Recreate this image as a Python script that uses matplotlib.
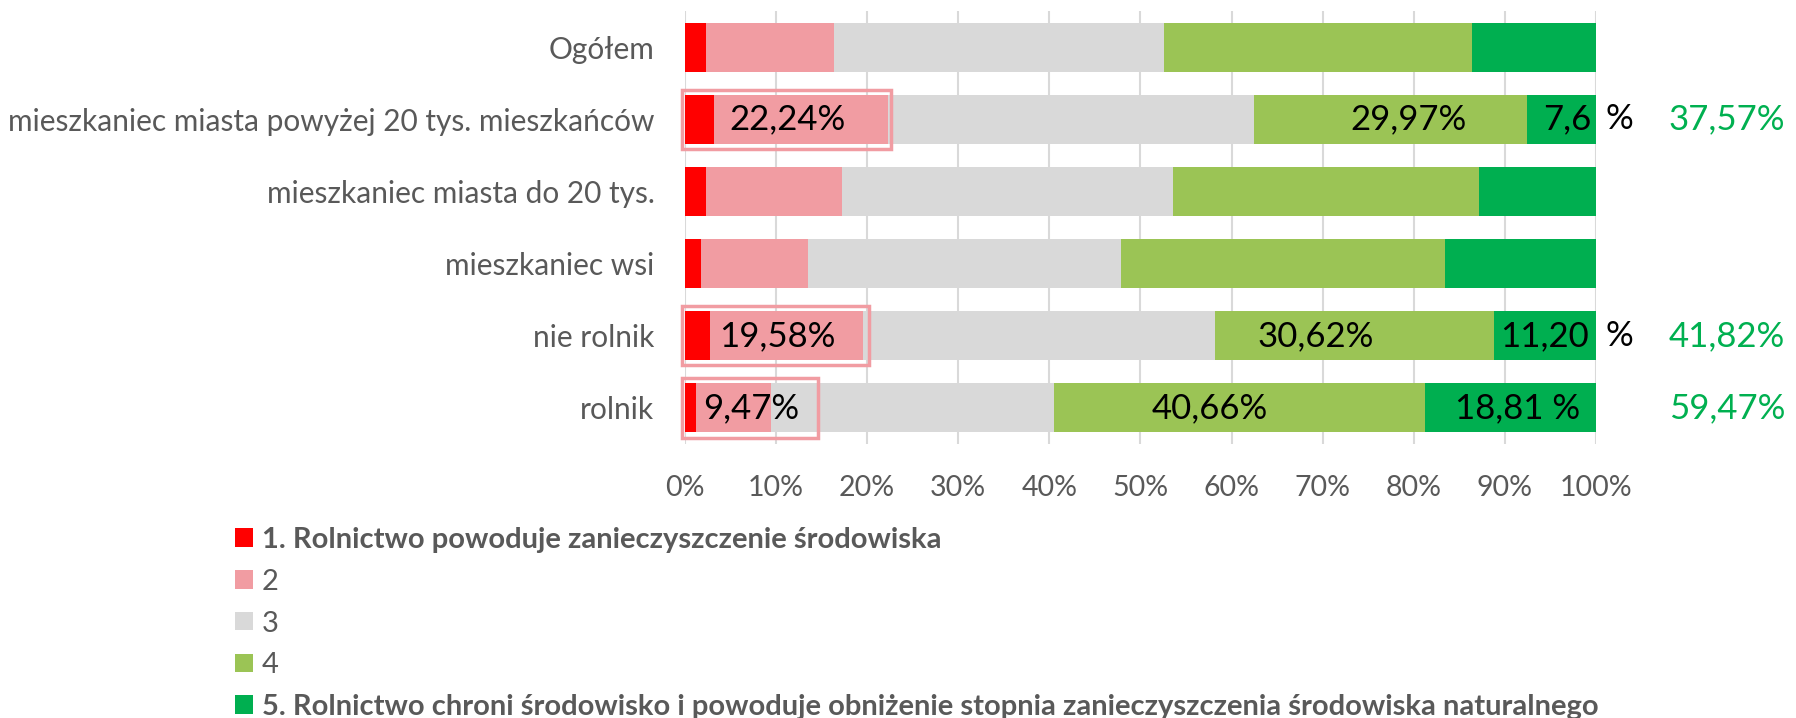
import numpy as np
import matplotlib
matplotlib.use('Agg')
import matplotlib.pyplot as plt
from matplotlib.patches import Rectangle

plt.rcParams['font.family'] = ['Lato', 'DejaVu Sans']

grupy = ['Ogółem', 'mieszkaniec miasta powyżej 20 tys. mieszkańców',
         'mieszkaniec miasta do 20 tys.', 'mieszkaniec wsi', 'nie rolnik', 'rolnik']
odp1 = [2.27, 3.23, 2.27, 1.72, 2.73, 1.18]
odp2 = [14.06, 19.01, 14.93, 11.76, 16.85, 8.29]
odp3 = [36.30, 40.19, 36.40, 34.42, 38.60, 31.06]
odp4 = [33.80, 29.97, 33.60, 35.57, 30.62, 40.66]
odp5 = [13.57, 7.60, 12.80, 16.53, 11.20, 18.81]

legenda = ['1. Rolnictwo powoduje zanieczyszczenie środowiska', '2', '3', '4',
           '5. Rolnictwo chroni środowisko i powoduje obniżenie stopnia zanieczyszczenia środowiska naturalnego']
kolory = ['#FF0000', '#F19CA2', '#D9D9D9', '#9BC455', '#00AF50']

# wiersze z opisami
wiersze_opis = [1, 4, 5]
opis_zolte = ['7,6', '11,20', '18,81 %']
opis_proc = ['%', '%', '']

fig = plt.figure(figsize=(17.96, 7.18), dpi=100)
ax = fig.add_axes([0.3814, 0.3816, 0.5072, 0.6031])

seria = [odp1, odp2, odp3, odp4, odp5]
y = np.arange(len(grupy))
lewo = np.zeros(len(grupy))
for s, kol, lab in zip(seria, kolory, legenda):
    ax.barh(y, s, left=lewo, height=0.68, color=kol, label=lab, zorder=2)
    lewo += np.array(s)

ax.set_xlim(0, 100)
ax.set_ylim(len(grupy) - 0.5, -0.5)
ax.set_yticks(y)
ax.set_yticklabels(grupy)
ax.set_xticks(np.arange(0, 101, 10))
ax.set_xticklabels([f'{v}%' for v in range(0, 101, 10)])
ax.tick_params(axis='both', length=0, labelcolor='#595959')
ax.tick_params(axis='y', pad=22, labelsize=21.5)
ax.tick_params(axis='x', pad=22, labelsize=20.5)
ax.xaxis.grid(True, color='#D9D9D9', lw=1.5, zorder=0)
ax.set_axisbelow(True)
for sp in ax.spines.values():
    sp.set_visible(False)

pozycje_ramka = [22.6, 20.2, 14.65]
pozycje_lewy = [11.3, 10.1, 7.3]
pozycje_4 = [79.4, 69.2, 57.6]
pozycje_5 = [96.8, 94.4, 91.4]

for k, i in enumerate(wiersze_opis):
    s12 = odp1[i] + odp2[i]
    s45 = odp4[i] + odp5[i]
    ax.add_patch(Rectangle((-0.3, i - 0.41), pozycje_ramka[k] + 0.3, 0.82,
                           fill=False, edgecolor='#F19CA2', lw=2.5, clip_on=False, zorder=3))
    ax.text(pozycje_lewy[k], i, f'{s12:.2f}%'.replace('.', ','), ha='center', va='center',
            fontsize=25, color='black', zorder=4)
    ax.text(pozycje_4[k], i, f'{odp4[i]:.2f}%'.replace('.', ','), ha='center', va='center',
            fontsize=25, color='black', zorder=4)
    ax.text(pozycje_5[k], i, opis_zolte[k], ha='center', va='center',
            fontsize=25, color='black', zorder=4)
    if opis_proc[k]:
        ax.text(102.6, i, opis_proc[k], ha='center', va='center', fontsize=25, color='black')
    ax.text(114.4, i, f'{s45:.2f}%'.replace('.', ','), ha='center', va='center',
            fontsize=25, color='#00B050')

leg = fig.legend(loc='upper left', bbox_to_anchor=(0.131, 0.266), frameon=False,
                 fontsize=21, handlelength=0.6, handleheight=0.6, handletextpad=0.3,
                 labelspacing=0.54, borderpad=0, borderaxespad=0)
for t in leg.get_texts():
    t.set_color('#595959')
leg.get_texts()[0].set_fontweight('bold')
leg.get_texts()[4].set_fontweight('bold')

fig.savefig('out.png', dpi=100)
